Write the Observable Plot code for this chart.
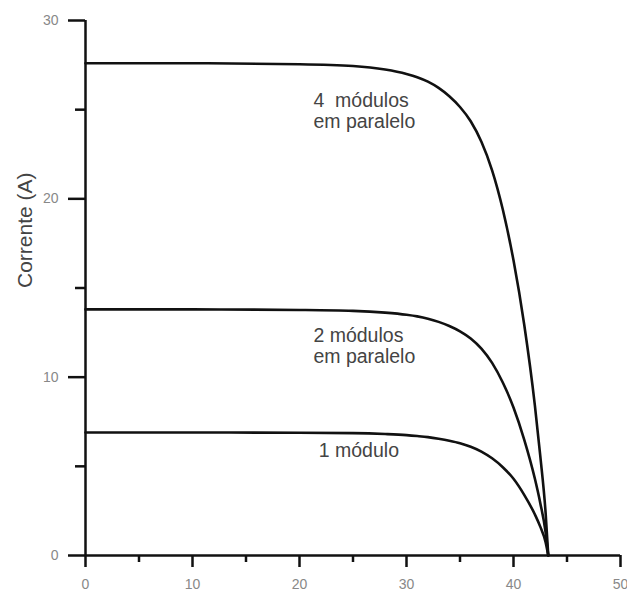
<!DOCTYPE html>
<html>
<head>
<meta charset="utf-8">
<script src="https://cdn.jsdelivr.net/npm/d3@7"></script>
<script src="https://cdn.jsdelivr.net/npm/@observablehq/plot@0.6"></script>
<style>
  html, body { margin: 0; padding: 0; background: #fff; }
</style>
</head>
<body>
<div id="chart"></div>
<script>
// ---- Data ----
const voltage4 = [0, 10, 20, 25, 28, 30, 31, 32, 33, 34, 35, 36, 37, 38, 39, 40, 41, 42, 42.5, 43, 43.25];
const current4 = [27.6, 27.6, 27.55, 27.45, 27.25, 27.0, 26.82, 26.57, 26.22, 25.75, 25.15, 24.35, 23.2, 21.6, 19.4, 16.55, 12.95, 8.4, 5.6, 2.4, 0];

const voltage2 = [0, 10, 20, 25, 28, 30, 31, 32, 33, 34, 35, 36, 37, 38, 39, 40, 41, 42, 42.5, 43, 43.25];
const current2 = [13.8, 13.8, 13.77, 13.72, 13.62, 13.5, 13.41, 13.28, 13.1, 12.87, 12.57, 12.17, 11.6, 10.8, 9.7, 8.3, 6.5, 4.3, 2.95, 1.3, 0];

const voltage1 = [0, 10, 20, 25, 28, 30, 31, 32, 33, 34, 35, 36, 37, 38, 39, 40, 41, 42, 42.5, 43, 43.25];
const current1 = [6.9, 6.9, 6.88, 6.86, 6.81, 6.75, 6.7, 6.64, 6.55, 6.44, 6.3, 6.1, 5.83, 5.45, 4.95, 4.3, 3.4, 2.3, 1.62, 0.75, 0];

const seriesNames = ["4 módulos", "2 módulos", "1 módulo"];

const xTicks = [0, 10, 20, 30, 40, 50];
const xMinorTicks = [5, 15, 25, 35, 45];
const yTicks = [0, 10, 20, 30];
const yMinorTicks = [5, 15, 25];

const yLabel = "Corrente (A)";
const curveLabelText = ["4\u00a0 módulos\nem paralelo", "2 módulos\nem paralelo", "1 módulo"];
const curveLabelV = [21.3, 21.3, 21.8];
const curveLabelI = [24.0, 10.82, 5.5];

// ---- Build tables ----
const curves = [[voltage4, current4], [voltage2, current2], [voltage1, current1]];
const rows = curves.flatMap(([vs, is], k) =>
  vs.map((v, i) => ({series: seriesNames[k], V: v, I: is[i]}))
);
const labels = curveLabelText.map((t, i) => ({text: t, V: curveLabelV[i], I: curveLabelI[i]}));

const ink = "#111";
const chart = Plot.plot({
  width: 627,
  height: 596,
  marginLeft: 85,
  marginRight: 7,
  marginTop: 20,
  marginBottom: 41,
  x: {domain: [0, 50]},
  y: {domain: [0, 30]},
  style: {fontFamily: "'Liberation Sans', Arial, sans-serif", background: "#fff", overflow: "visible"},
  marks: [
    Plot.axisX(xTicks, {tickSize: 12, tickPadding: 12, fontSize: 14, stroke: ink, fill: "#888", strokeWidth: 2.5, label: null}),
    Plot.axisX(xMinorTicks, {tickSize: 7, tickFormat: () => "", stroke: ink, strokeWidth: 2.5, label: null}),
    Plot.axisY(yTicks, {tickSize: 17, tickPadding: 10, fontSize: 14, stroke: ink, fill: "#888", strokeWidth: 2.5, label: null}),
    Plot.axisY(yMinorTicks, {tickSize: 10, tickFormat: () => "", stroke: ink, strokeWidth: 2.5, label: null}),
    Plot.ruleY([0], {stroke: ink, strokeWidth: 2.5}),
    Plot.ruleX([0], {y1: 0, y2: 30, stroke: ink, strokeWidth: 2.5}),
    Plot.line(rows, {x: "V", y: "I", z: "series", curve: "monotone-x", stroke: ink, strokeWidth: 2.6}),
    Plot.text(labels, {x: "V", y: "I", text: "text", textAnchor: "start", lineAnchor: "bottom", lineHeight: 1.05, fontSize: 19.5, fill: "#444"}),
    Plot.text([yLabel], {frameAnchor: "left", dx: -60, rotate: -90, fontSize: 21, fill: "#444"})
  ]
});
document.getElementById("chart").appendChild(chart);
</script>
</body>
</html>
